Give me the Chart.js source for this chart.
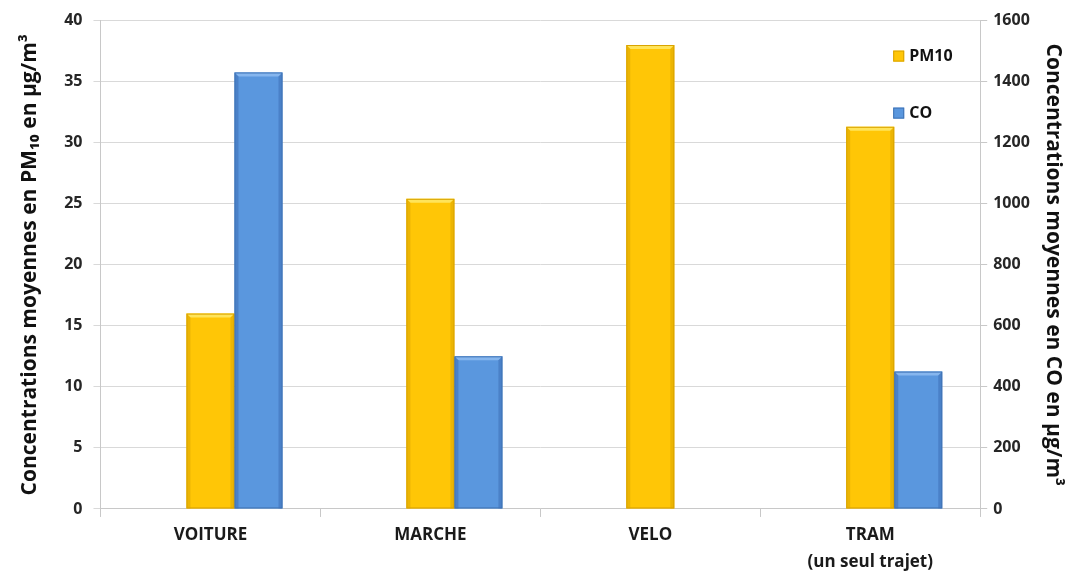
<!DOCTYPE html>
<html>
<head>
<meta charset="utf-8">
<script src="https://cdn.jsdelivr.net/npm/chart.js@4"></script>
<style>
  html, body { margin: 0; padding: 0; background: #fff; }
  #wrap { width: 1077px; height: 575px; }
</style>
</head>
<body>
<div id="wrap"><canvas id="myChart"></canvas></div>
<script>
var categories = ["VOITURE", "MARCHE", "VELO", ["TRAM", "(un seul trajet)"]]
var pm10 = [16.0, 25.4, 38.0, 31.3]
var co = [1430, 500, null, 450]
var leftTicks = [0, 5, 10, 15, 20, 25, 30, 35, 40]
var rightTicks = [0, 200, 400, 600, 800, 1000, 1200, 1400, 1600]

var FONT = "'Open Sans', Lato, sans-serif"
var gold = "#FFC606", goldEdge = "#D9A300"
var blue = "#5A97DE", blueEdge = "#3F73B5"

// little bevel on every bar, like the office 3D look
var bevel = {
  id: "bevel",
  afterDatasetsDraw(chart) {
    var ctx = chart.ctx
    chart.data.datasets.forEach((ds, i) => {
      if (!ds.bevel) return
      chart.getDatasetMeta(i).data.forEach(bar => {
        if (bar.skip || bar.y == null) return
        var w = bar.width, x0 = bar.x - w / 2, x1 = bar.x + w / 2
        var top = bar.y, bot = bar.base
        if (bot - top < 2) return
        var e = 4
        ctx.save()
        ctx.fillStyle = ds.bevel.light
        ctx.beginPath()
        ctx.moveTo(x0, top); ctx.lineTo(x1, top); ctx.lineTo(x1 - e, top + e); ctx.lineTo(x0 + e, top + e)
        ctx.closePath(); ctx.fill()
        ctx.fillStyle = ds.bevel.dark
        ctx.beginPath()
        ctx.moveTo(x0, top); ctx.lineTo(x0 + e, top + e); ctx.lineTo(x0 + e, bot); ctx.lineTo(x0, bot)
        ctx.closePath(); ctx.fill()
        ctx.beginPath()
        ctx.moveTo(x1, top); ctx.lineTo(x1 - e, top + e); ctx.lineTo(x1 - e, bot); ctx.lineTo(x1, bot)
        ctx.closePath(); ctx.fill()
        ctx.strokeStyle = ds.borderColor
        ctx.lineWidth = 1
        ctx.strokeRect(x0 + 0.5, top + 0.5, w - 1, bot - top - 1)
        ctx.restore()
      })
    })
  }
}

// legend drawn inside the plot, top right
var insideLegend = {
  id: "insideLegend",
  afterDraw(chart) {
    var ctx = chart.ctx, area = chart.chartArea
    var items = chart.data.datasets.filter(d => d.label)
    ctx.save()
    ctx.font = "bold 16px " + FONT
    ctx.textBaseline = "middle"
    items.forEach((d, k) => {
      var y = area.top + 35 + k * 57
      var x = area.right - 87
      ctx.fillStyle = d.backgroundColor
      ctx.fillRect(x, y - 5, 11, 11)
      ctx.strokeStyle = d.borderColor
      ctx.strokeRect(x + 0.5, y - 4.5, 10, 10)
      ctx.fillStyle = "#111"
      ctx.fillText(d.label, x + 16, y + 1)
    })
    ctx.restore()
  }
}

var tickFont = { family: FONT, size: 16, weight: "bold" }
var titleFont = { family: FONT, size: 21, weight: "bold" }

var chartField = document.querySelector("#myChart").getContext("2d")

var myChart = new Chart(chartField, {
  type: "bar",
  data: {
    labels: categories,
    datasets: [
      { label: "", data: categories.map(() => null), backgroundColor: "rgba(0,0,0,0)", yAxisID: "y" },
      {
        label: "PM10", data: pm10, yAxisID: "y",
        backgroundColor: gold, borderColor: goldEdge, borderWidth: 0,
        bevel: { light: "#FFE45A", dark: "rgba(200,150,0,0.35)" }
      },
      {
        label: "CO", data: co, yAxisID: "y1",
        backgroundColor: blue, borderColor: blueEdge, borderWidth: 0,
        bevel: { light: "#86B6EE", dark: "rgba(40,80,150,0.3)" }
      }
    ]
  },
  options: {
    responsive: true,
    maintainAspectRatio: false,
    animation: false,
    categoryPercentage: 0.655,
    barPercentage: 1,
    layout: { padding: { top: 12, right: 0, left: 17, bottom: -6 } },
    plugins: { legend: { display: false }, tooltip: { enabled: false } },
    scales: {
      x: {
        grid: { drawOnChartArea: false, drawTicks: true, tickLength: 8, color: "#C8C8C8", offset: true },
        border: { color: "#C8C8C8" },
        ticks: { color: "#1a1a1a", font: { family: FONT, size: 17, weight: "bold", lineHeight: 1.59 }, padding: 5 }
      },
      y: {
        position: "left",
        min: 0, max: 40,
        afterBuildTicks: s => { s.ticks = leftTicks.map(v => ({ value: v })) },
        grid: { color: "#D9D9D9", tickLength: 7 },
        border: { color: "#C8C8C8" },
        ticks: { color: "#262626", font: tickFont, padding: 11 },
        title: {
          display: true,
          text: "Concentrations moyennes en PM\u2081\u2080 en \u00b5g/m\u00b3",
          color: "#111",
          font: titleFont,
          padding: { top: 0, bottom: 11 }
        }
      },
      y1: {
        position: "right",
        min: 0, max: 1600,
        afterBuildTicks: s => { s.ticks = rightTicks.map(v => ({ value: v })) },
        grid: { drawOnChartArea: false, color: "#C8C8C8", tickLength: 7 },
        border: { color: "#C8C8C8" },
        ticks: { color: "#262626", font: tickFont, padding: 6, callback: v => String(v) },
        title: {
          display: true,
          text: "Concentrations moyennes en CO en \u00b5g/m\u00b3",
          color: "#111",
          font: titleFont,
          padding: { top: 11, bottom: 5 }
        }
      }
    }
  },
  plugins: [bevel, insideLegend]
})
</script>
</body>
</html>
